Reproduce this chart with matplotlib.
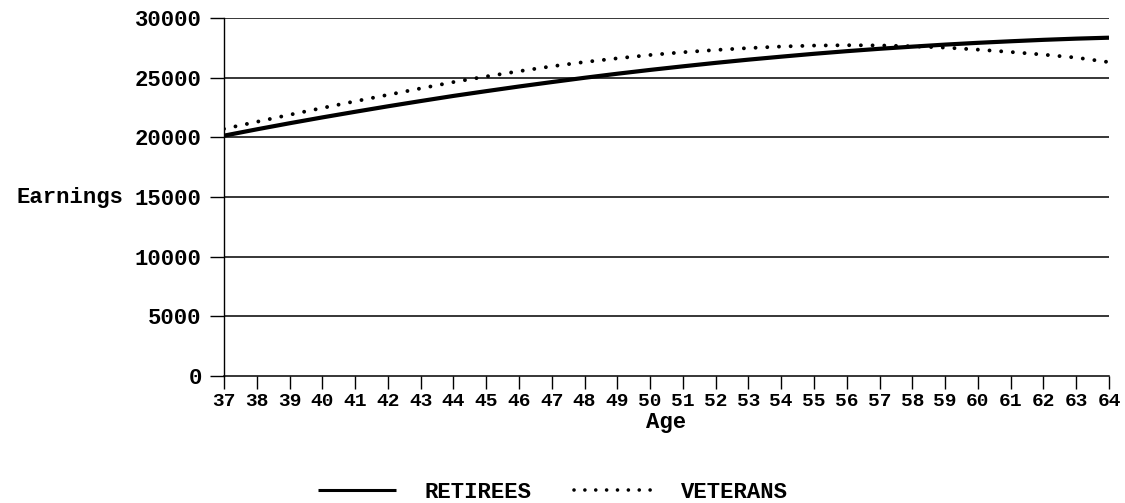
import matplotlib
matplotlib.use("Agg")
import matplotlib.pyplot as plt

plt.rcParams['font.family'] = ['Liberation Mono', 'DejaVu Sans Mono']
plt.rcParams['font.weight'] = 'bold'
plt.rcParams['axes.labelweight'] = 'bold'

ages = list(range(37, 65))

retirees = [
    20140, 20670, 21180, 21670, 22140, 22600, 23040, 23470, 23870, 24260,
    24630, 24990, 25330, 25650, 25950, 26240, 26510, 26760, 27000, 27220,
    27420, 27600, 27770, 27920, 28050, 28170, 28270, 28350]
veterans = [
    20710, 21300, 21890, 22460, 23020, 23560, 24100, 24630, 25100, 25540,
    25950, 26310, 26620, 26900, 27130, 27320, 27480, 27610, 27690, 27720,
    27700, 27630, 27520, 27350, 27150, 26930, 26680, 26300]

y_ticks = [0, 5000, 10000, 15000, 20000, 25000, 30000]

fig = plt.figure(figsize=(11.25, 5.03), dpi=100)
ax = fig.add_axes([224 / 1125, 1 - 376 / 503, 885 / 1125, 358 / 503])

for yt in y_ticks[1:]:
    ax.axhline(yt, color='black', lw=1.1, zorder=1)

ax.plot(ages, retirees, color='black', lw=3, solid_capstyle='butt',
        label='RETIREES', zorder=3)
ax.plot(ages, veterans, color='black', lw=2.8, linestyle=(0, (0.01, 3.0)),
        dash_capstyle='round', label='VETERANS', zorder=3)

ax.set_xlim(37, 64)
ax.set_ylim(0, 30000)
ax.set_xticks(ages)
ax.set_xticklabels([str(a) for a in ages], fontsize=14)
ax.set_yticks(y_ticks)
ax.set_yticklabels([str(v) for v in y_ticks], fontsize=16)
ax.tick_params(axis='x', direction='out', length=9, width=1, pad=3)
ax.tick_params(axis='y', direction='out', length=10, width=1, pad=6)

for side in ['top', 'right']:
    ax.spines[side].set_visible(False)
ax.spines['left'].set_linewidth(1)
ax.spines['bottom'].set_linewidth(1.1)

ax.set_xlabel('Age', fontsize=16, labelpad=2)
ax.set_ylabel('Earnings', fontsize=16, rotation=0, ha='right', va='center')
ax.yaxis.set_label_coords(-0.113, 0.5)

leg = fig.legend(loc='center', bbox_to_anchor=(553 / 1125, 1 - 492 / 503),
                 ncol=2, frameon=False, fontsize=16, handlelength=3.5,
                 handletextpad=1.3, columnspacing=1.9)
leg.get_lines()[0].set_linewidth(2.2)
leg.get_lines()[1].set_linewidth(2.6)

fig.savefig('out.png', dpi=100)
